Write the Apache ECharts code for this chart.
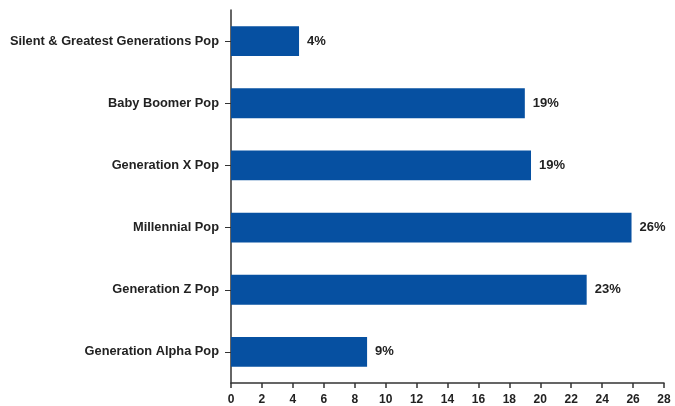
<!DOCTYPE html>
<html>
<head>
<meta charset="utf-8">
<script src="https://cdn.jsdelivr.net/npm/echarts@6/dist/echarts.min.js"></script>
<style>
  html, body { margin: 0; padding: 0; background: #ffffff; }
  #chart { width: 675px; height: 406px; }
</style>
</head>
<body>
<div id="chart"></div>
<script>
// Population share by generation (percent)
const categories = [
  'Silent & Greatest Generations Pop',
  'Baby Boomer Pop',
  'Generation X Pop',
  'Millennial Pop',
  'Generation Z Pop',
  'Generation Alpha Pop'
];
const shares = [4.4, 19.0, 19.4, 25.9, 23.0, 8.8];
const xTicks = [0, 2, 4, 6, 8, 10, 12, 14, 16, 18, 20, 22, 24, 26, 28];

const chart = echarts.init(document.getElementById('chart'));
const font = '"Liberation Sans", Arial, sans-serif';

chart.setOption({
  animation: false,
  backgroundColor: '#ffffff',
  grid: { left: 231, right: 11, top: 10, bottom: 23, containLabel: false },
  xAxis: {
    type: 'value',
    min: xTicks[0],
    max: xTicks[xTicks.length - 1],
    interval: 2,
    axisLine: { show: true, lineStyle: { color: '#333', width: 1.5 } },
    axisTick: { show: true, length: 5, lineStyle: { color: '#333', width: 1.5 } },
    splitLine: { show: false },
    axisLabel: {
      color: '#222', fontFamily: font, fontWeight: 'bold', fontSize: 12, margin: 11
    }
  },
  yAxis: {
    type: 'category',
    inverse: true,
    data: categories,
    axisLine: { show: true, lineStyle: { color: '#333', width: 1.5 } },
    axisTick: { show: true, length: 6, alignWithLabel: true, lineStyle: { color: '#333', width: 1 } },
    axisLabel: {
      color: '#222', fontFamily: font, fontWeight: 'bold', fontSize: 12.8, margin: 12
    }
  },
  series: [{
    type: 'bar',
    data: shares,
    barCategoryGap: '52%',
    itemStyle: { color: '#0650a1' },
    label: {
      show: true,
      position: 'right',
      distance: 8,
      color: '#222',
      fontFamily: font,
      fontWeight: 'bold',
      fontSize: 13,
      formatter: p => Math.round(p.value) + '%'
    }
  }]
});
</script>
</body>
</html>
